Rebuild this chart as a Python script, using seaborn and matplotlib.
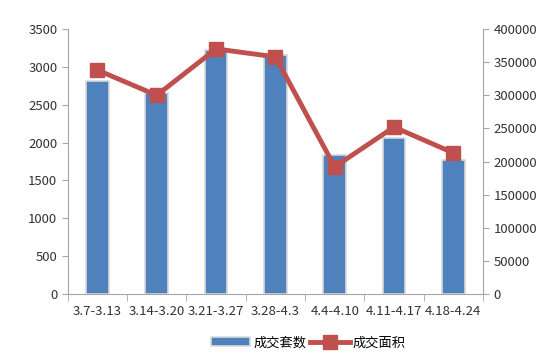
import seaborn as sns
import matplotlib.pyplot as plt
import pandas as pd

plt.rcParams['font.family'] = ['Noto Sans CJK SC', 'DejaVu Sans']

# data
weeks = ["3.7-3.13", "3.14-3.20", "3.21-3.27", "3.28-4.3", "4.4-4.10", "4.11-4.17", "4.18-4.24"]
units = [2820, 2660, 3220, 3160, 1830, 2060, 1770]       # 成交套数
area = [338000, 300000, 370000, 358000, 192000, 252000, 213000]  # 成交面积

df = pd.DataFrame({"week": weeks, "units": units, "area": area})

fig = plt.figure(figsize=(5.6, 3.54), dpi=100)
ax = fig.add_axes([0.121, 0.1695, 0.7415, 0.7485])

sns.barplot(data=df, x="week", y="units", color="#4F81BD", saturation=1,
            width=0.38, edgecolor="#D9D9D9", linewidth=1.2, ax=ax, label="成交套数")
ax.set_ylim(0, 3500)
ax.set_yticks(range(0, 3501, 500))
ax.set_xlabel("")
ax.set_ylabel("")
if ax.get_legend() is not None:
    ax.get_legend().remove()

ax2 = ax.twinx()
ax2.plot(range(len(weeks)), df["area"], color="#C0504D", linewidth=3.5,
         marker="s", markersize=9.5, label="成交面积")
ax2.set_ylim(0, 400000)
ax2.set_yticks(range(0, 400001, 50000))

for a in (ax, ax2):
    for s in a.spines.values():
        s.set_visible(False)
    a.tick_params(labelsize=9.5, colors="#333333", length=4)
ax.spines["left"].set_visible(True)
ax.spines["bottom"].set_visible(True)
ax2.spines["right"].set_visible(True)
for s in (ax.spines["left"], ax.spines["bottom"], ax2.spines["right"]):
    s.set_color("#A6A6A6")
ax.tick_params(axis="both", color="#A6A6A6")
ax2.tick_params(axis="y", color="#A6A6A6")
ax.set_xticks([i - 0.5 for i in range(len(weeks) + 1)], minor=True)
ax.tick_params(axis="x", which="major", length=0, pad=8)
ax.tick_params(axis="x", which="minor", length=5, color="#A6A6A6")
ax.set_xlim(-0.5, len(weeks) - 0.5)

h1, l1 = ax.get_legend_handles_labels()
h2, l2 = ax2.get_legend_handles_labels()
fig.legend(h1 + h2, l1 + l2, loc="lower center", ncol=2, frameon=False,
           fontsize=9.5, bbox_to_anchor=(0.55, -0.02), handlelength=3, columnspacing=0.3,
           handletextpad=0.2)

fig.savefig("out.png", dpi=100, facecolor="white")
